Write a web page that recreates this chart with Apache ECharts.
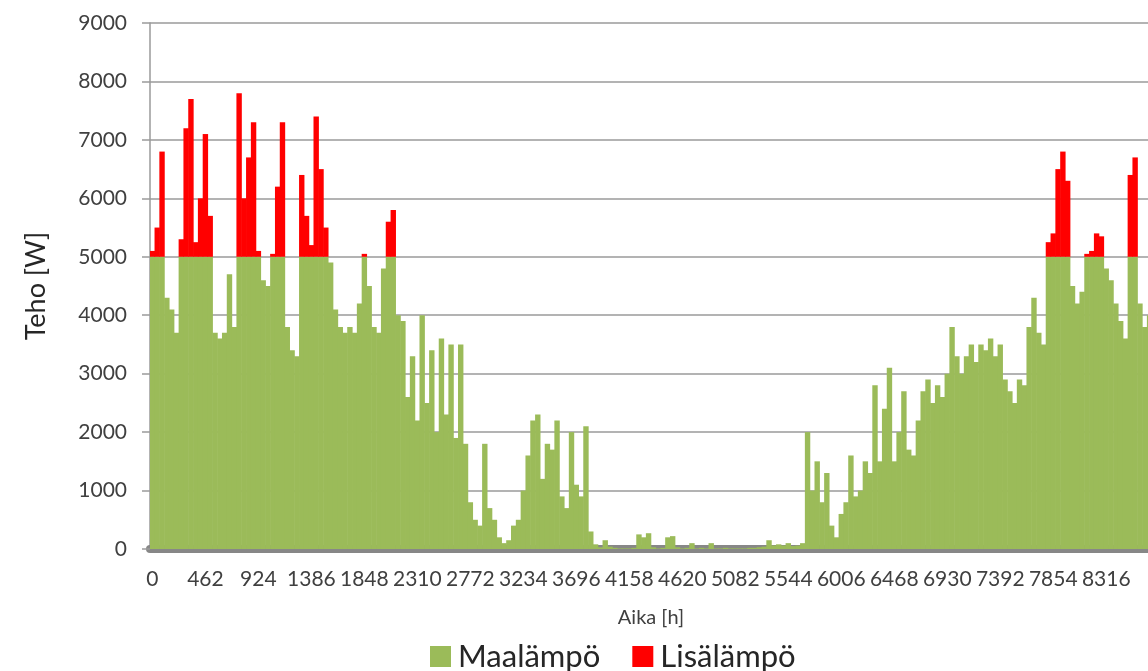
<!DOCTYPE html>
<html>
<head>
<meta charset="utf-8">
<title>Teho</title>
<script src="https://cdn.jsdelivr.net/npm/echarts@6/dist/echarts.min.js"></script>
<style>
  html, body { margin: 0; padding: 0; background: #fff; }
  #chart { width: 1148px; height: 671px; }
</style>
</head>
<body>
<div id="chart"></div>
<script>
// one sample every 42 h
const aikaAskel = 42
const xTickLabels = ['0', '462', '924', '1386', '1848', '2310', '2772', '3234', '3696', '4158',
  '4620', '5082', '5544', '6006', '6468', '6930', '7392', '7854', '8316']

const maalampo = [
  5000, 5000, 5000, 4300, 4100, 3700, 5000, 5000, 5000, 5000,
  5000, 5000, 5000, 3700, 3600, 3700, 4700, 3800, 5000, 5000,
  5000, 5000, 5000, 4600, 4500, 5000, 5000, 5000, 3800, 3400,
  3300, 5000, 5000, 5000, 5000, 5000, 5000, 4900, 4100, 3800,
  3700, 3800, 3700, 4200, 5000, 4500, 3800, 3700, 4800, 5000,
  5000, 4000, 3900, 2600, 3300, 2200, 4000, 2500, 3400, 2000,
  3600, 2300, 3500, 1900, 3500, 1800, 800, 500, 400, 1800,
  700, 500, 200, 100, 150, 400, 500, 1000, 1600, 2200,
  2300, 1200, 1800, 1700, 2200, 900, 700, 2000, 1100, 900,
  2100, 300, 80, 30, 150, 40, 20, 10, 10, 10,
  20, 250, 200, 270, 30, 10, 20, 200, 220, 30,
  10, 20, 100, 10, 20, 10, 100, 10, 10, 20,
  10, 10, 10, 10, 20, 20, 30, 40, 150, 60,
  80, 60, 100, 50, 60, 100, 2000, 1000, 1500, 800,
  1300, 400, 200, 600, 800, 1600, 900, 1000, 1500, 1300,
  2800, 1500, 2400, 3100, 1500, 2000, 2700, 1700, 1600, 2200,
  2700, 2900, 2500, 2800, 2600, 3000, 3800, 3300, 3000, 3300,
  3500, 3200, 3500, 3400, 3600, 3300, 3500, 2900, 2700, 2500,
  2900, 2800, 3800, 4300, 3700, 3500, 5000, 5000, 5000, 5000,
  5000, 4500, 4200, 4400, 5000, 5000, 5000, 5000, 4800, 4600,
  4200, 3900, 3600, 5000, 5000, 4200, 3800, 4000
]

const lisalampo = [
  100, 500, 1800, 0, 0, 0, 300, 2200, 2700, 250,
  1000, 2100, 700, 0, 0, 0, 0, 0, 2800, 1000,
  1700, 2300, 100, 0, 0, 50, 1200, 2300, 0, 0,
  0, 1400, 700, 200, 2400, 1500, 500, 0, 0, 0,
  0, 0, 0, 0, 50, 0, 0, 0, 0, 600,
  800, 0, 0, 0, 0, 0, 0, 0, 0, 0,
  0, 0, 0, 0, 0, 0, 0, 0, 0, 0,
  0, 0, 0, 0, 0, 0, 0, 0, 0, 0,
  0, 0, 0, 0, 0, 0, 0, 0, 0, 0,
  0, 0, 0, 0, 0, 0, 0, 0, 0, 0,
  0, 0, 0, 0, 0, 0, 0, 0, 0, 0,
  0, 0, 0, 0, 0, 0, 0, 0, 0, 0,
  0, 0, 0, 0, 0, 0, 0, 0, 0, 0,
  0, 0, 0, 0, 0, 0, 0, 0, 0, 0,
  0, 0, 0, 0, 0, 0, 0, 0, 0, 0,
  0, 0, 0, 0, 0, 0, 0, 0, 0, 0,
  0, 0, 0, 0, 0, 0, 0, 0, 0, 0,
  0, 0, 0, 0, 0, 0, 0, 0, 0, 0,
  0, 0, 0, 0, 0, 0, 250, 400, 1500, 1800,
  1300, 0, 0, 0, 50, 100, 400, 350, 0, 0,
  0, 0, 0, 1400, 1700, 0, 0, 0
]

const tunnit = maalampo.map((v, i) => String(i * aikaAskel))

const chart = echarts.init(document.getElementById('chart'))
const fontFamily = 'Lato, "Open Sans", sans-serif'

chart.setOption({
  animation: false,
  backgroundColor: '#fff',
  textStyle: { fontFamily },
  // plot runs a little past the right edge, like in the cropped original
  grid: { left: 150, right: -4, top: 23, bottom: 122, outerBoundsMode: 'none', containLabel: false },
  legend: {
    data: ['Maalämpö', 'Lisälämpö'],
    left: 425,
    top: 636,
    icon: 'rect',
    itemWidth: 21,
    itemHeight: 21,
    itemGap: 32,
    textStyle: { fontSize: 31, color: '#262626', fontFamily, padding: [0, 0, 0, 2] },
  },
  xAxis: {
    type: 'category',
    data: tunnit,
    offset: 4,
    name: 'Aika [h]',
    nameLocation: 'middle',
    nameGap: 55,
    nameTextStyle: { fontSize: 20, color: '#404040' },
    axisLine: { lineStyle: { color: '#878787', width: 8 } },
    axisTick: { show: false },
    axisLabel: {
      interval: (idx, val) => xTickLabels.includes(val),
      color: '#404040',
      fontSize: 21,
      margin: 16,
    },
    splitLine: { show: false },
  },
  yAxis: {
    type: 'value',
    min: 0,
    max: 9000,
    interval: 1000,
    name: 'Teho [W]',
    nameLocation: 'middle',
    nameRotate: 90,
    nameGap: 100,
    nameTextStyle: { fontSize: 27, color: '#262626' },
    axisLine: { show: true, lineStyle: { color: '#9a9a9a', width: 1.5 } },
    axisTick: { show: true, length: 8, lineStyle: { color: '#9a9a9a', width: 1.5 } },
    axisLabel: { color: '#404040', fontSize: 21, margin: 23, formatter: v => String(v) },
    splitLine: { lineStyle: { color: '#9a9a9a', width: 1.5 } },
  },
  series: [
    {
      name: 'Maalämpö',
      type: 'bar',
      stack: 'teho',
      data: maalampo,
      barWidth: '112%',
      itemStyle: { color: '#9bbb59' },
    },
    {
      name: 'Lisälämpö',
      type: 'bar',
      stack: 'teho',
      data: lisalampo,
      barWidth: '112%',
      itemStyle: { color: '#ff0000' },
    },
  ],
})
</script>
</body>
</html>
